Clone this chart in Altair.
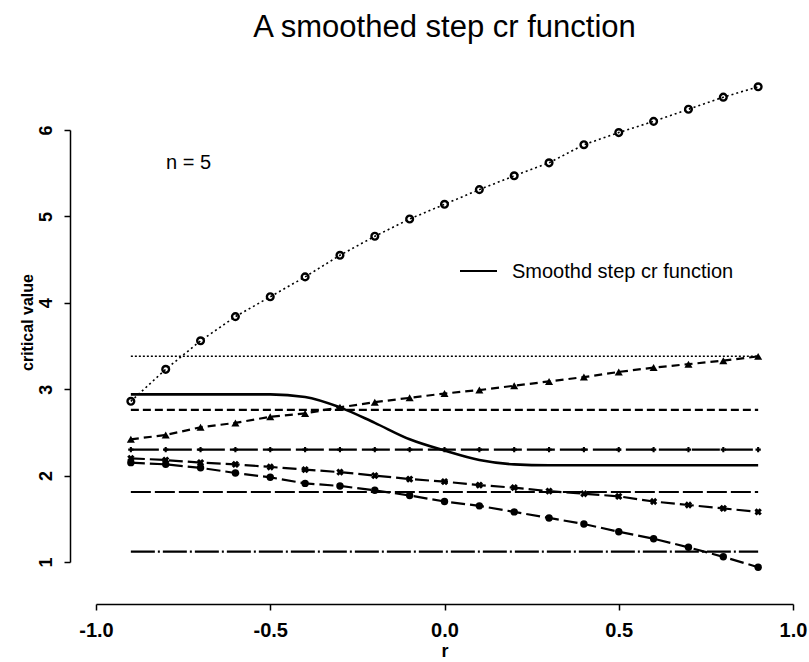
import altair as alt
import pandas as pd

# ---- data ----
r_vals = [-0.9, -0.8, -0.7, -0.6, -0.5, -0.4, -0.3, -0.2, -0.1, 0.0,
          0.1, 0.2, 0.3, 0.4, 0.5, 0.6, 0.7, 0.8, 0.9]
open_circle_vals = [2.86, 3.23, 3.56, 3.84, 4.07, 4.30, 4.55, 4.77, 4.97, 5.14,
                    5.31, 5.47, 5.62, 5.83, 5.97, 6.10, 6.24, 6.38, 6.50]
triangle_vals = [2.42, 2.47, 2.56, 2.61, 2.68, 2.72, 2.79, 2.85, 2.90, 2.95,
                 2.99, 3.04, 3.09, 3.14, 3.20, 3.25, 3.29, 3.33, 3.38]
cross_vals = [2.20, 2.18, 2.15, 2.13, 2.10, 2.07, 2.04, 2.00, 1.96, 1.93,
              1.89, 1.86, 1.82, 1.79, 1.76, 1.70, 1.66, 1.62, 1.58]
dot_vals = [2.15, 2.13, 2.09, 2.03, 1.98, 1.91, 1.88, 1.83, 1.77, 1.70,
            1.65, 1.58, 1.51, 1.44, 1.35, 1.27, 1.17, 1.06, 0.94]
smooth_vals = [2.94, 2.94, 2.94, 2.94, 2.94, 2.91, 2.79, 2.61, 2.42, 2.29,
               2.18, 2.13, 2.12, 2.12, 2.12, 2.12, 2.12, 2.12, 2.12]
level_dotted = 3.38
level_dashed = 2.76
level_plus = 2.30
level_longdash = 1.81
level_dashdot = 1.12

x_ticks = [-1.0, -0.5, 0.0, 0.5, 1.0]
y_ticks = [1, 2, 3, 4, 5, 6]

title_text = "A smoothed step cr function"
legend_label = "Smoothd step cr function"
n_label = "n = 5"

FONT = "Liberation Sans"


def frame(vals):
    return pd.DataFrame({"r": r_vals, "v": vals})


def level(val):
    return pd.DataFrame({"r": r_vals, "v": [val] * len(r_vals)})


x_enc = alt.X(
    "r:Q",
    scale=alt.Scale(domain=[-1, 1], nice=False, zero=False),
    axis=alt.Axis(values=x_ticks, title="r", offset=42,
                  labelExpr="(datum.value < 0 ? '-' : '') + format(abs(datum.value), '.1f')",
                  grid=False, tickSize=6, labelFontSize=20, titleFontSize=18,
                  labelPadding=10, titlePadding=2, labelFont=FONT, titleFont=FONT,
                  labelFontWeight="bold",
                  labelColor="black", titleColor="black", domainColor="black",
                  tickColor="black", domainWidth=1.5, tickWidth=1.5,
                  labelFlush=False, titleFontWeight="bold"),
)
y_enc = alt.Y(
    "v:Q",
    scale=alt.Scale(domain=[1, 6], nice=False, zero=False),
    axis=alt.Axis(values=y_ticks, format="d", title="critical value", offset=26,
                  grid=False, tickSize=6, labelFontSize=18, titleFontSize=16,
                  labelAngle=270, labelAlign="center", labelBaseline="bottom",
                  labelFontWeight="bold", titleY=192,
                  labelPadding=9, titlePadding=2, labelFont=FONT, titleFont=FONT,
                  labelColor="black", titleColor="black", domainColor="black",
                  tickColor="black", domainWidth=1.5, tickWidth=1.5,
                  labelFlush=False, titleFontWeight="bold"),
)


def line(df, dash, width=2.0, interp="linear"):
    kw = dict(color="black", strokeWidth=width, clip=False, interpolate=interp)
    if dash:
        kw["strokeDash"] = dash
    return alt.Chart(df).mark_line(**kw).encode(x=x_enc, y=y_enc)


def points(df, shape, size, filled, angle=0, sw=1.5):
    return alt.Chart(df).mark_point(shape=shape, size=size, filled=filled,
                                    color="black", strokeWidth=sw, opacity=1,
                                    angle=angle, clip=False).encode(x=x_enc, y=y_enc)


layers = [
    line(level(level_dotted), [2, 2], 1.5),
    line(level(level_dashed), [8, 4], 2.2),
    line(level(level_plus), [28, 5], 2.2),
    points(level(level_plus), "cross", 28, True),
    line(level(level_longdash), [20, 4], 2.2),
    line(level(level_dashdot), [24, 3, 2, 3], 2.2),
    line(frame(open_circle_vals), [2, 3], 1.6),
    points(frame(open_circle_vals), "circle", 45, False, sw=2.4),
    line(frame(triangle_vals), [8, 5], 2.2),
    points(frame(triangle_vals), "triangle-up", 65, True),
    line(frame(cross_vals), [14, 5], 2.2),
    points(frame(cross_vals), "cross", 55, True, angle=45),
    line(frame(dot_vals), [14, 5], 2.2),
    points(frame(dot_vals), "circle", 55, True),
    line(frame(smooth_vals), None, 2.6, "monotone"),
]

legend_df = pd.DataFrame({"label": [legend_label]})
legend_line = alt.Chart(legend_df).mark_rule(color="black", strokeWidth=2).encode(
    x=alt.value(364), x2=alt.value(401), y=alt.value(141))
legend_text = alt.Chart(legend_df).mark_text(
    align="left", baseline="middle", fontSize=20, font=FONT, color="black").encode(
    x=alt.value(416), y=alt.value(142), text="label:N")

n_df = pd.DataFrame({"label": [n_label]})
n_text = alt.Chart(n_df).mark_text(
    align="left", baseline="middle", fontSize=20, font=FONT, color="black").encode(
    x=alt.value(70), y=alt.value(33), text="label:N")

title_df = pd.DataFrame({"label": [title_text]})
title_mark = alt.Chart(title_df).mark_text(
    align="center", baseline="alphabetic", fontSize=31, font=FONT, color="black").encode(
    x=alt.value(348.5), y=alt.value(-93), text="label:N")

chart = alt.layer(*layers, legend_line, legend_text, n_text, title_mark).properties(
    width=697,
    height=432,
    background="white",
    autosize=alt.AutoSizeParams(type="none"),
    padding={"left": 96, "top": 130, "right": 16, "bottom": 100},
).configure_view(stroke=None)

chart.save("out.html", embed_options={"renderer": "svg", "actions": False})
